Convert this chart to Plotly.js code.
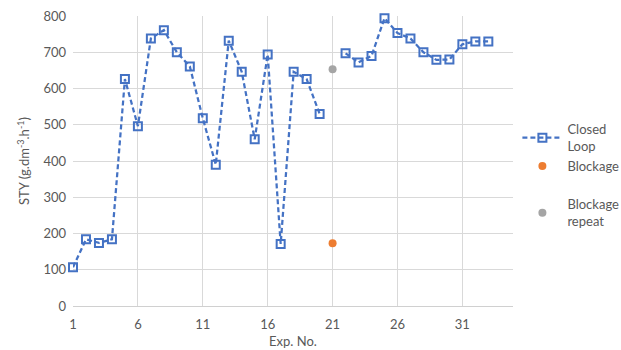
<!DOCTYPE html>
<html>
<head>
<meta charset="utf-8">
<script src="https://cdn.plot.ly/plotly-3.0.1.min.js"></script>
<style>html,body{margin:0;padding:0;background:#fff;}#chart{width:621px;height:350px;}</style>
</head>
<body>
<div id="chart"></div>
<script>
const expNo = [1,2,3,4,5,6,7,8,9,10,11,12,13,14,15,16,17,18,19,20,21,22,23,24,25,26,27,28,29,30,31,32,33];
const closedLoop = [107,184,174,184,626,496,738,761,700,661,518,390,732,646,460,694,171,646,626,530,null,697,672,690,794,753,738,700,679,680,722,730,730];
const blockageX = [21];
const blockageY = [173];
const repeatX = [21];
const repeatY = [653];
const yTitle = 'STY (g.dm<sup>-3</sup>.h<sup>-1</sup>)';
const xTitle = 'Exp. No.';

const font = 'Lato, "Open Sans", sans-serif';
const txt = '#595959';

const traces = [
  {x: expNo, y: closedLoop, name: 'Closed<br>Loop', type: 'scatter', mode: 'lines+markers',
   connectgaps: false, cliponaxis: false, legend: 'legend',
   line: {color: '#4472C4', width: 2.25, dash: '5px,3px'},
   marker: {symbol: 'square-open', size: 8, color: '#4472C4', line: {width: 2, color: '#4472C4'}}},
  {x: blockageX, y: blockageY, name: 'Blockage', type: 'scatter', mode: 'markers', cliponaxis: false, legend: 'legend',
   marker: {symbol: 'circle', size: 8, color: '#ED7D31'}},
  {x: repeatX, y: repeatY, name: 'Blockage<br>repeat', type: 'scatter', mode: 'markers', cliponaxis: false, legend: 'legend2',
   marker: {symbol: 'circle', size: 8, color: '#A5A5A5'}}
];

const legendCommon = {xanchor: 'left', yanchor: 'top', font: {size: 13, color: txt},
  bgcolor: 'rgba(0,0,0,0)', traceorder: 'normal', itemwidth: 40};

const layout = {
  width: 621, height: 350,
  margin: {l: 73, r: 108, t: 16, b: 44, autoexpand: false},
  paper_bgcolor: '#fff', plot_bgcolor: '#fff',
  font: {family: font, size: 13, color: txt},
  xaxis: {range: [1, 34.9], tick0: 1, dtick: 5, showgrid: true, gridcolor: '#d9d9d9', gridwidth: 1,
          zeroline: false, showline: true, linecolor: '#d0d0d0', linewidth: 1, ticks: '',
          ticklabelstandoff: 6, automargin: false,
          tickfont: {size: 13, color: txt}, title: {text: xTitle, font: {size: 13, color: txt}, standoff: 6}},
  yaxis: {range: [0, 800], dtick: 100, showgrid: true, gridcolor: '#d9d9d9', gridwidth: 1,
          zeroline: false, showline: false, ticks: '', ticklen: 0, ticklabelstandoff: 6, automargin: false,
          tickfont: {size: 13, color: txt}, title: {text: yTitle, font: {size: 13, color: txt}, standoff: 10}},
  legend: Object.assign({}, legendCommon, {x: 1.01, y: 0.661}),
  legend2: Object.assign({}, legendCommon, {x: 1.01, y: 0.402}),
  showlegend: true
};

Plotly.newPlot('chart', traces, layout, {displayModeBar: false, staticPlot: true});
</script>
</body>
</html>
